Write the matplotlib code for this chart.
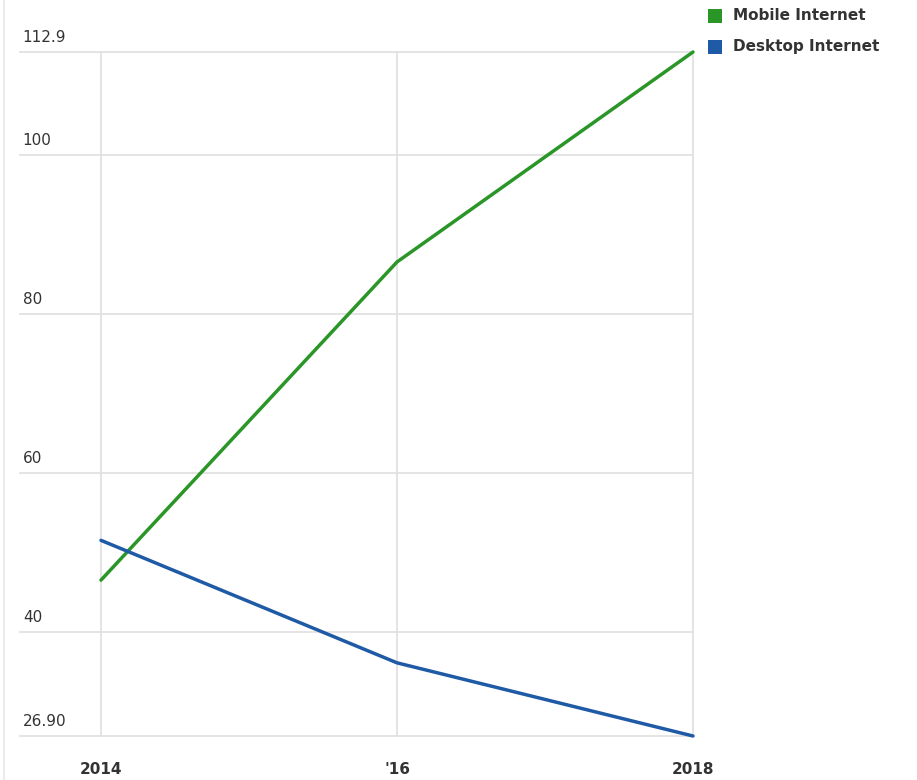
import matplotlib.pyplot as plt
from matplotlib.patches import Rectangle

# Data
years = [2014, 2016, 2018]
year_labels = ['2014', "'16", '2018']
mobile = [46.5, 86.5, 112.9]
desktop = [51.5, 36.1, 26.9]
series_names = ['Mobile Internet', 'Desktop Internet']
y_ticks = [26.9, 40, 60, 80, 100, 112.9]
y_tick_labels = ['26.90', '40', '60', '80', '100', '112.9']

green = '#2a9628'
blue = '#1f5aa6'
grid_col = '#e2e2e2'
text_col = '#333333'

W, H = 917, 780
fig = plt.figure(figsize=(W / 100, H / 100), dpi=100, facecolor='white')

# axes box in pixels: left 20, right 693, top 52, bottom 736
ax = fig.add_axes([20 / W, 1 - 736 / H, (693 - 20) / W, (736 - 52) / H])
ax.set_xlim(2014 - 81 / 148, 2018)
ax.set_ylim(26.9, 112.9)
for s in ax.spines.values():
    s.set_visible(False)
ax.set_xticks([])
ax.set_yticks([])

# gridlines
for y in y_ticks:
    ax.axhline(y, color=grid_col, lw=1.3, zorder=1, clip_on=False)
for x in years:
    ax.axvline(x, color=grid_col, lw=1.3, zorder=1, clip_on=False)

# lines
ax.plot(years, mobile, color=green, lw=2.5, solid_capstyle='round', zorder=3, clip_on=False)
ax.plot(years, desktop, color=blue, lw=2.5, solid_capstyle='round', zorder=3, clip_on=False)

# y labels sit above their gridline, left aligned
for y, lab in zip(y_ticks, y_tick_labels):
    ax.annotate(lab, xy=(0, y), xycoords=('axes fraction', 'data'),
                xytext=(2, 5), textcoords='offset points',
                ha='left', va='bottom', fontsize=11, color=text_col)

# x labels
for x, lab in zip(years, year_labels):
    ax.annotate(lab, xy=(x, 26.9), xycoords='data',
                xytext=(0, -19), textcoords='offset points',
                ha='center', va='top', fontsize=11, fontweight='bold', color=text_col)

# legend
for i, (name, col) in enumerate(zip(series_names, [green, blue])):
    yc = 1 - (16 + 31 * i) / H
    fig.patches.append(Rectangle((708 / W, yc - 7 / H), 14 / W, 14 / H,
                                 transform=fig.transFigure, facecolor=col,
                                 edgecolor='none'))
    fig.text(733 / W, yc, name, ha='left', va='center', fontsize=11,
             fontweight='bold', color=text_col)

# faint frame on the left edge
fig.add_artist(plt.Line2D([4 / W, 4 / W], [0, 1], transform=fig.transFigure,
                          color='#ececec', lw=1.5))

fig.savefig('out.png', dpi=100, facecolor='white')
